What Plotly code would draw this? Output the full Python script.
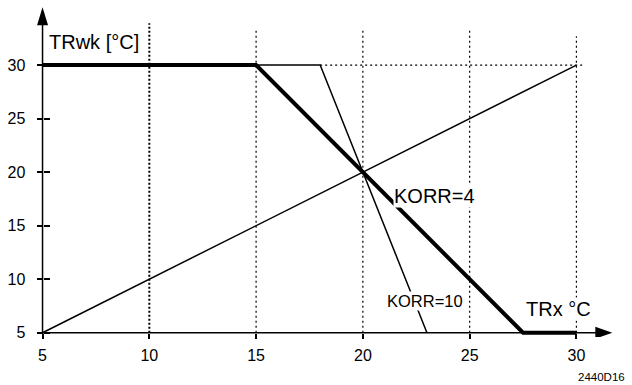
import plotly.graph_objects as go

# ---- data ----
korr4_x = [5, 15, 27.5, 30]
korr4_y = [30, 30, 5, 5]
korr10_x = [5, 18, 23]
korr10_y = [30, 30, 5]
diag_x = [5, 30]
diag_y = [5, 30]
x_ticks = [5, 10, 15, 20, 25, 30]
y_ticks = [5, 10, 15, 20, 25, 30]
grid_x = [10, 15, 20, 25, 30]
grid_top = [33.9, 33.3, 33.3, 33.3, 32.7]

FONT = "Liberation Sans, Arial, sans-serif"
XR = [4.6, 31.9]
YR = [4.6, 35.8]
XPOS = (5 - XR[0]) / (XR[1] - XR[0])
YPOS = (5 - YR[0]) / (YR[1] - YR[0])

fig = go.Figure()

fig.add_trace(go.Scatter(x=diag_x, y=diag_y, mode="lines",
                         line=dict(color="black", width=1.5), hoverinfo="skip"))
fig.add_trace(go.Scatter(x=korr10_x, y=korr10_y, mode="lines",
                         line=dict(color="black", width=1.5), hoverinfo="skip"))
fig.add_trace(go.Scatter(x=korr4_x, y=korr4_y, mode="lines",
                         line=dict(color="black", width=4), hoverinfo="skip"))
# invisible trace for overlay axis (crossing ticks)
fig.add_trace(go.Scatter(x=[5], y=[5], yaxis="y2", mode="markers",
                         marker=dict(opacity=0), hoverinfo="skip"))

shapes = []
for gx, gt in zip(grid_x, grid_top):
    shapes.append(dict(type="line", xref="x", yref="y", x0=gx, x1=gx, y0=5, y1=gt,
                       line=dict(color="black", width=2 if gx == 10 else 1.2,
                                 dash="2px,2px" if gx == 10 else "2px,3px"),
                       layer="below"))
shapes.append(dict(type="line", xref="x", yref="y", x0=18, x1=30.3, y0=30, y1=30,
                   line=dict(color="black", width=1.2, dash="2px,3px"), layer="below"))
# axis lines
shapes.append(dict(type="line", xref="x", yref="y", x0=5, x1=31.0, y0=5, y1=5,
                   line=dict(color="black", width=1.5), layer="below"))
shapes.append(dict(type="line", xref="x", yref="y", x0=5, x1=5, y0=5, y1=34.5,
                   line=dict(color="black", width=1.5), layer="below"))
# arrowheads
shapes.append(dict(type="path", xref="x", yref="y", xsizemode="pixel", ysizemode="pixel",
                   xanchor=5, yanchor=35.4, path="M-5.5,-18 L5.5,-18 L0,0 Z",
                   fillcolor="black", line=dict(width=0)))
shapes.append(dict(type="path", xref="x", yref="y", xsizemode="pixel", ysizemode="pixel",
                   xanchor=31.68, yanchor=5, path="M-17,-6 L-17,6 L0,0 Z",
                   fillcolor="black", line=dict(width=0)))

annotations = [
    dict(x=23.35, y=17.74, xref="x", yref="y", text="KORR=4", showarrow=False,
         font=dict(family=FONT, size=20, color="black"), bgcolor="white", borderpad=0),
    dict(x=22.91, y=7.99, xref="x", yref="y", text="KORR=10", showarrow=False,
         font=dict(family=FONT, size=16.5, color="black"), bgcolor="white", borderpad=0),
    dict(x=5.2, y=32.2, xref="x", yref="y", text="TRwk [°C]", showarrow=False,
         xanchor="left", font=dict(family=FONT, size=20, color="black")),
    dict(x=27.6, y=7.2, xref="x", yref="y", text="TRx °C", showarrow=False,
         xanchor="left", font=dict(family=FONT, size=20, color="black"),
         bgcolor="white", borderpad=0),
    dict(x=1.0178, y=-0.1187, xref="paper", yref="paper", text="2440D16", showarrow=False,
         xanchor="right", yanchor="middle", font=dict(family=FONT, size=11.5, color="black")),
]

fig.update_layout(
    width=632, height=385,
    margin=dict(l=33.5, r=15.4, t=2.8, b=47.7, autoexpand=False),
    paper_bgcolor="white", plot_bgcolor="white",
    showlegend=False,
    shapes=shapes, annotations=annotations,
    font=dict(family=FONT, color="black"),
    xaxis=dict(range=XR, tickvals=x_ticks, ticktext=[str(v) for v in x_ticks],
               anchor="free", position=YPOS,
               showgrid=False, zeroline=False, showline=False,
               ticks="outside", ticklen=5, tickwidth=1.5, tickcolor="black",
               tickfont=dict(size=16, family=FONT, color="black"),
               ticklabelstandoff=3),
    yaxis=dict(range=YR, tickvals=y_ticks, ticktext=[str(v) for v in y_ticks],
               anchor="free", position=XPOS,
               showgrid=False, zeroline=False, showline=False,
               ticks="outside", ticklen=6, tickwidth=1.5, tickcolor="black",
               tickfont=dict(size=16, family=FONT, color="black"),
               ticklabelstandoff=8),
    yaxis2=dict(range=YR, overlaying="y", side="left", tickvals=y_ticks,
                anchor="free", position=XPOS,
                showticklabels=False, showgrid=False, zeroline=False, showline=False,
                ticks="inside", ticklen=6, tickwidth=1.5, tickcolor="black"),
)

fig.write_html("out.html", config={"displayModeBar": False},
               post_script="document.body.style.margin='0';document.body.style.padding='0';")
